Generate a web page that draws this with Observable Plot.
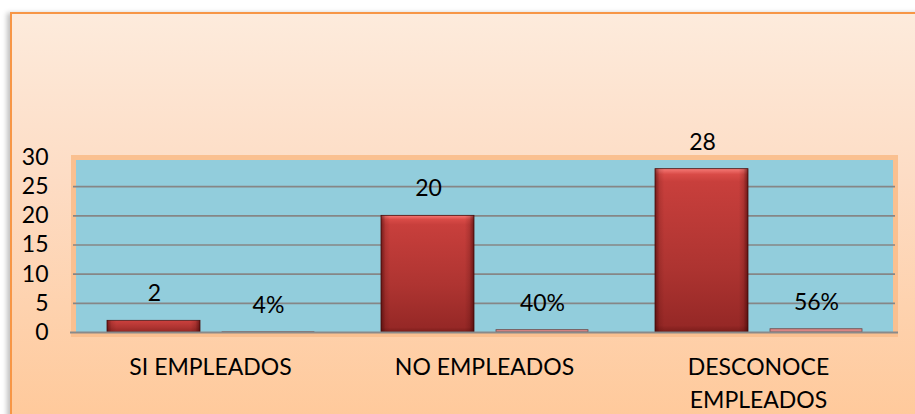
<!DOCTYPE html>
<html>
<head>
<meta charset="utf-8">
<script src="https://cdn.jsdelivr.net/npm/d3@7"></script>
<script src="https://cdn.jsdelivr.net/npm/@observablehq/plot@0.6"></script>
<style>
  html, body { margin: 0; padding: 0; background: #ffffff; width: 915px; height: 414px; overflow: hidden; }
  #wrap { position: relative; width: 915px; height: 414px; }
  #panel {
    position: absolute; left: 10px; top: 12px; width: 920px; height: 420px;
    border-left: 2px solid #F79646; border-top: 2px solid #F79646;
    background: linear-gradient(to bottom, #FDEBDC 0%, #FDDCC4 40%, #FFC898 100%);
    box-shadow: -3px 1px 5px rgba(0,0,0,0.25);
  }
  #chart { position: absolute; left: 0; top: 0; }
</style>
</head>
<body>
<div id="wrap"><div id="panel"></div><div id="chart"></div></div>
<script>
const categories = ["SI EMPLEADOS", "NO EMPLEADOS", "DESCONOCE EMPLEADOS"];
const counts = [2, 20, 28];
const percents = [0.04, 0.40, 0.56];
const percentLabels = ["4%", "40%", "56%"];
const yTicks = [0, 5, 10, 15, 20, 25, 30];
const gridTicks = [5, 10, 15, 20, 25];

const data = categories.map((c, i) => ({category: c, count: counts[i], pct: percents[i], pctLabel: percentLabels[i]}));

const defs = () => {
  const g = d3.create("svg:defs");
  const v = g.append("linearGradient").attr("id", "redV").attr("x1", 0).attr("y1", 0).attr("x2", 0).attr("y2", 1);
  [[0, "#F67A76"], [0.035, "#D94B47"], [0.08, "#C83F3C"], [0.6, "#AE3431"], [0.96, "#962826"], [1, "#7A1C1A"]]
    .forEach(([o, c]) => v.append("stop").attr("offset", o).attr("stop-color", c));
  const h = g.append("linearGradient").attr("id", "redH").attr("x1", 0).attr("y1", 0).attr("x2", 1).attr("y2", 0);
  [[0, "rgba(50,0,0,0.55)"], [0.05, "rgba(50,0,0,0.12)"], [0.1, "rgba(50,0,0,0)"], [0.9, "rgba(50,0,0,0)"], [0.95, "rgba(50,0,0,0.15)"], [1, "rgba(50,0,0,0.6)"]]
    .forEach(([o, c]) => h.append("stop").attr("offset", o).attr("stop-color", c));
  return g.node();
};

const chart = Plot.plot({
  width: 915,
  height: 414,
  marginLeft: 73,
  marginRight: 20,
  marginTop: 157,
  marginBottom: 82,
  style: {fontFamily: "Lato, 'Open Sans', sans-serif", fontSize: "23px", color: "#000", background: "transparent", overflow: "visible"},
  x: {type: "band", domain: categories, padding: 0},
  y: {domain: [0, 30]},
  marks: [
    defs,
    Plot.frame({fill: "#92CDDC", stroke: "#FAC090", strokeWidth: 5, insetBottom: -2}),
    Plot.ruleY(gridTicks, {stroke: "#868686", strokeWidth: 1.6}),
    Plot.barY(data, {x: "category", y: "count", fill: "url(#redV)", stroke: "#4a0f0e", strokeWidth: 0.8, insetLeft: 34, insetRight: 147}),
    Plot.barY(data, {x: "category", y: "count", fill: "url(#redH)", insetLeft: 34, insetRight: 147}),
    Plot.barY(data, {x: "category", y: "pct", fill: "#D98584", stroke: "#6a4a4a", strokeWidth: 0.8, insetLeft: 149, insetRight: 33}),
    Plot.ruleY([0], {stroke: "#8a8a8a", strokeWidth: 2, insetLeft: -3, insetRight: -3}),
    Plot.text(data, {x: "category", y: "count", text: d => String(d.count), dx: -56, dy: -27, lineAnchor: "middle", fill: "#000", fontSize: 23}),
    Plot.text(data, {x: "category", y: "pct", text: "pctLabel", dx: 58, dy: -27, lineAnchor: "middle", fill: "#000", fontSize: 23}),
    Plot.axisY({ticks: yTicks, tickSize: 0, tickPadding: 25, fontSize: 23, label: null, tickFormat: d => String(d)}),
    Plot.axisX({tickSize: 0, tickPadding: 19, fontSize: 23, lineHeight: 1.43, label: null,
      tickFormat: d => d.length > 14 ? d.replace(" ", "\n") : d})
  ]
});
document.getElementById("chart").appendChild(chart);
</script>
</body>
</html>
